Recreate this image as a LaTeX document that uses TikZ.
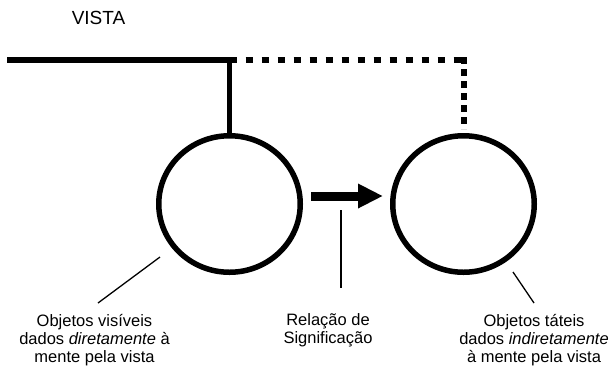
\documentclass[tikz,border=0pt]{standalone}
\usepackage{fontspec}
\setmainfont{Liberation Sans}
\usetikzlibrary{shapes.geometric,arrows.meta}

\begin{document}
\begin{tikzpicture}[x=1pt,y=-1pt,
    orb/.style={ellipse, draw, line width=5.5pt, minimum width=141.5pt, minimum height=136.5pt, inner sep=0pt},
    lbl/.style={align=center, font=\fontsize{16.5}{18}\selectfont, inner sep=0pt, anchor=base},
    view/.style={line width=5.5pt},
    dots/.style={line width=6pt, dash pattern=on 7pt off 9pt},
    leader/.style={line width=1.3pt}]
                \useasboundingbox (0,0) rectangle (609,368);
                \node[orb] (V) at (229.5,204) {};
                \node[orb] (T) at (463.5,204) {};
                \node[font=\fontsize{19}{21}\selectfont, inner sep=0pt, anchor=base] (vista) at (98.5,24) {VISTA};
                \node[lbl] (capV) at (94.5,362) {Objetos visíveis\\dados \textit{diretamente} à\\mente pela vista};
                \node[lbl] (capS) at (328,343) {Relação de\\Significação};
                \node[lbl] (capT) at (534,362) {Objetos táteis\\dados \textit{indiretamente}\\à mente pela vista};
                \coordinate (start) at (7,60);
                \coordinate (fork) at (229.5,60);
                \coordinate (corner) at (463.5,60);
                \coordinate (pv) at (160,257);
                \coordinate (pvl) at (98,303);
                \coordinate (ps) at (341,210);
                \coordinate (psl) at (341,288);
                \coordinate (pt) at (513,272);
                \coordinate (ptl) at (534,303);
                \draw[view] (start) -- (fork) -- (V.north);
                \draw[dots] (fork) -- (corner);
                \draw[dots, dash pattern=on 7pt off 5pt, shorten <=-3pt, shorten >=4pt] (corner) -- (T.north);
                \draw[line width=9pt, -{Triangle[length=25pt,width=23pt]}, shorten <=8pt, shorten >=7pt]
                    ([yshift=8pt]V.east) -- ([yshift=8pt]T.west);
                \draw[leader]
                    (pv) edge (pvl)
                    (ps) edge (psl)
                    (pt) edge (ptl);
            \end{tikzpicture}
\end{document}
